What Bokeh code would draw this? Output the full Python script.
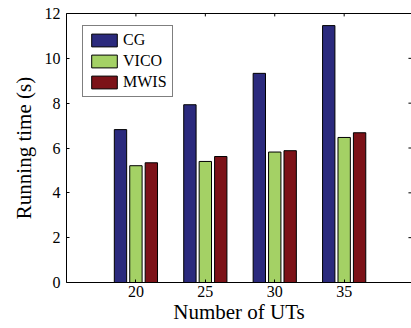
from bokeh.plotting import figure
from bokeh.models import ColumnDataSource, LinearAxis, FixedTicker, Range1d, Legend, LegendItem
from bokeh.transform import dodge
from bokeh.embed import file_html
from bokeh.resources import INLINE

users = [20, 25, 30, 35]
cg = [6.82, 7.93, 9.33, 11.46]
vico = [5.21, 5.40, 5.82, 6.47]
mwis = [5.34, 5.62, 5.88, 6.68]
y_ticks = [0, 2, 4, 6, 8, 10, 12]

FONT = "Liberation Serif"
colors = ["#2b2a7d", "#a4d165", "#7c1218"]

X0, X1 = 15, 39.85
Y0, Y1 = 0, 12

src = ColumnDataSource(dict(x=users, cg=cg, vico=vico, mwis=mwis))

p = figure(width=411, height=328, output_backend="svg", toolbar_location=None,
           x_range=Range1d(X0, X1), y_range=Range1d(Y0, Y1),
           min_border_left=66, min_border_right=0, min_border_top=13, min_border_bottom=46)
p.outline_line_color = None
p.grid.grid_line_color = None
p.background_fill_color = "white"
p.border_fill_color = "white"

off = 1.111
w = 0.89
r1 = p.vbar(x=dodge("x", -off, range=p.x_range), top="cg", width=w, source=src,
            fill_color=colors[0], line_color="black", line_width=1)
r2 = p.vbar(x=dodge("x", 0, range=p.x_range), top="vico", width=w, source=src,
            fill_color=colors[1], line_color="black", line_width=1)
r3 = p.vbar(x=dodge("x", off, range=p.x_range), top="mwis", width=w, source=src,
            fill_color=colors[2], line_color="black", line_width=1)

for ax in (p.xaxis[0], p.yaxis[0]):
    ax.major_tick_in = 3
    ax.major_tick_out = 0
    ax.minor_tick_line_color = None
    ax.axis_line_color = "black"
    ax.major_tick_line_color = "black"
    ax.major_label_text_font = FONT
    ax.major_label_text_font_size = "16px"
    ax.major_label_text_color = "black"
    ax.axis_label_text_font = FONT
    ax.axis_label_text_font_size = "21px"
    ax.axis_label_text_font_style = "normal"
    ax.axis_label_text_color = "black"

p.xaxis[0].ticker = FixedTicker(ticks=users)
p.yaxis[0].ticker = FixedTicker(ticks=y_ticks)
p.xaxis[0].axis_label = "Number of UTs"
p.yaxis[0].axis_label = "Running time (s)"
p.xaxis[0].major_label_standoff = 3
p.yaxis[0].major_label_standoff = 6
p.xaxis[0].axis_label_standoff = 0
p.yaxis[0].axis_label_standoff = 6

top = LinearAxis(ticker=FixedTicker(ticks=[]), major_tick_in=0, major_tick_out=0,
                 minor_tick_line_color=None, axis_line_color="black")
p.add_layout(top, "above")

tick_len_y = 0.13
tick_len_x = 0.22
p.segment(x0=users, y0=[Y1] * len(users), x1=users, y1=[Y1 - tick_len_y] * len(users),
          line_color="black", line_width=1)
p.segment(x0=[X1] * len(y_ticks), y0=y_ticks, x1=[X1 - tick_len_x] * len(y_ticks), y1=y_ticks,
          line_color="black", line_width=1)

legend = Legend(items=[LegendItem(label="CG", renderers=[r1]),
                       LegendItem(label="VICO", renderers=[r2]),
                       LegendItem(label="MWIS", renderers=[r3])],
                location=(16, 185), orientation="vertical",
                glyph_width=32, glyph_height=16, label_height=16, spacing=3,
                padding=5, margin=0, label_standoff=3,
                label_text_font=FONT, label_text_font_size="16px", label_text_color="black",
                border_line_color="black", border_line_width=1,
                background_fill_color="white", background_fill_alpha=1)
p.add_layout(legend, "center")

open("out.html", "w").write(file_html(p, INLINE))
